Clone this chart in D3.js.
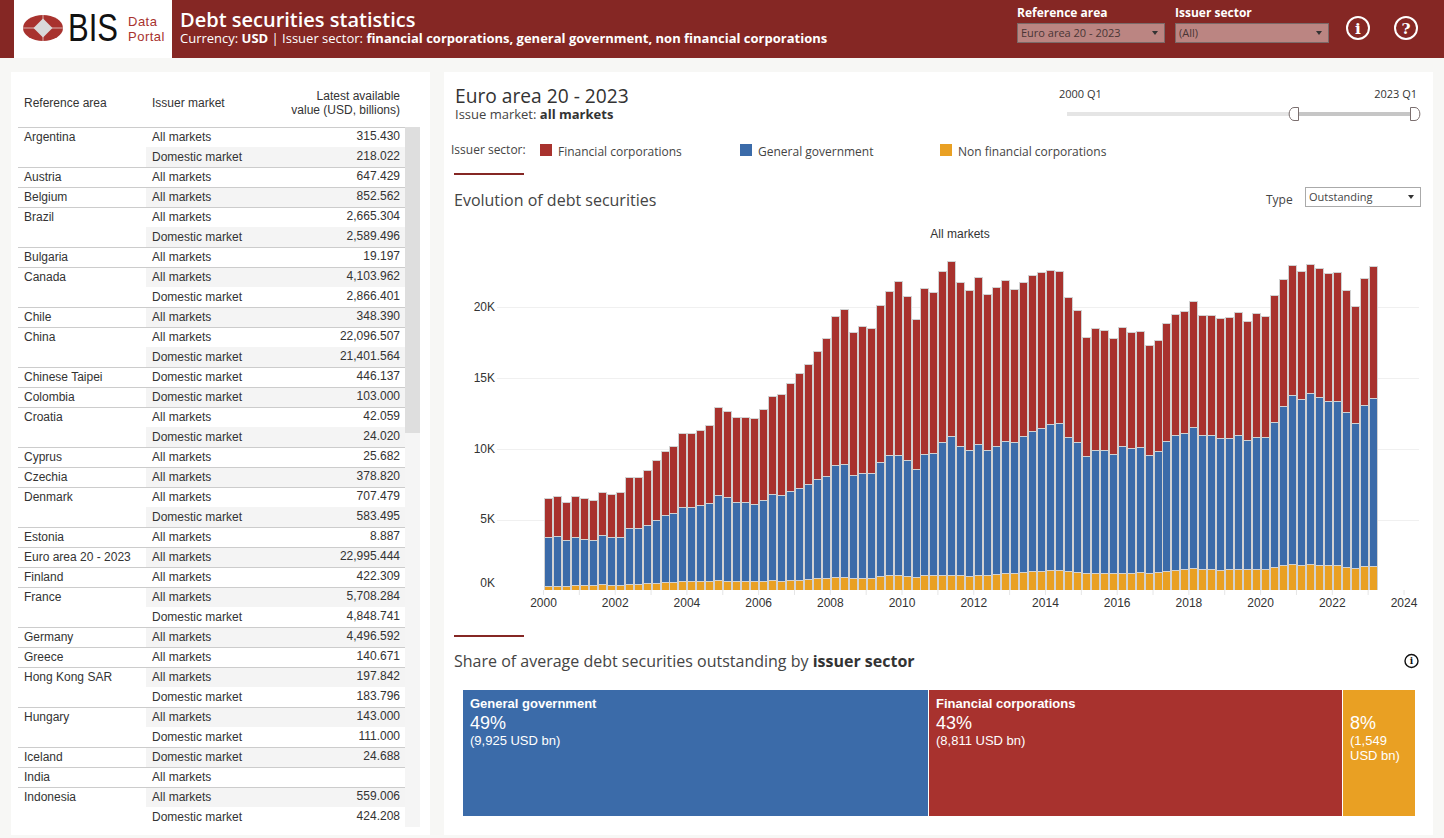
<!DOCTYPE html>
<html>
<head>
<meta charset="utf-8">
<script src="https://d3js.org/d3.v7.min.js"></script>
<style>
html, body { margin: 0; padding: 0; background: #f7f7f5; overflow: hidden; }
svg { display: block; }
</style>
</head>
<body>
<div id="chart"></div>
<script>
// DATA * * * * * * * * * * * * * * * * * * * * * * * *
var sectors = ["Financial corporations", "General government", "Non financial corporations"];
var yearTicks = [2000, 2002, 2004, 2006, 2008, 2010, 2012, 2014, 2016, 2018, 2020, 2022, 2024];
var valueTicks = [0, 5000, 10000, 15000, 20000];

// quarterly, 2000 Q1 to 2023 Q1, USD bn
var financial = [2758,2828,2687,2899,2899,2828,3041,3041,3182,3606,3606,3889,4243,4525,4738,5233,5233,5303,5515,6222,6081,6010,6010,6081,
  6435,6930,7142,7637,8132,8485,9051,9758,10536,10960,10112,10394,10253,11101,11596,12304,11596,10607,11738,11384,12091,12374,11596,11314,
  11809,11031,11243,11384,10819,10889,11031,11031,10889,10748,9899,9334,8414,8627,8485,8202,8414,8202,8202,7778,7849,8344,8556,8627,
  8909,8485,8485,8485,8556,8697,8414,8768,8556,8980,8980,9192,9051,9122,9122,9051,9122,8627,8273,8980,9334];
var government = [3465,3536,3253,3394,3253,3182,3465,3394,3394,3960,3960,4101,4455,4738,4879,5233,5233,5374,5515,6010,5940,5586,5586,5445,
  5728,6081,6081,6293,6505,6717,7000,7212,7920,7990,7283,7425,7425,8061,8485,8485,8202,7637,8556,8627,9404,9829,9122,8909,
  9263,8839,9051,9334,9263,9617,9899,10112,10324,10394,9475,9192,8273,8697,8697,8414,8980,8839,8839,8344,8556,9192,9546,9617,
  9970,9475,9475,9334,9263,9475,9122,9334,9334,10253,11243,11950,11738,12091,11879,11596,11596,10960,10253,11384,11879];
var nonFinancial = [306,306,306,377,377,377,448,377,377,448,448,519,519,589,589,660,660,660,660,731,660,660,660,660,
  660,731,660,731,731,801,872,872,943,943,872,872,872,1013,1084,1084,1013,943,1084,1084,1084,1084,1084,1013,
  1084,1084,1155,1226,1226,1296,1367,1367,1438,1438,1367,1296,1226,1226,1226,1226,1226,1226,1296,1226,1296,1367,1438,1508,
  1579,1508,1508,1438,1508,1508,1508,1508,1508,1650,1791,1862,1791,1862,1791,1791,1791,1650,1579,1721,1721];

var shareNames = ["General government", "Financial corporations", ""];
var shareValues = [9925, 8811, 1549];
var sharePercents = ["49%", "43%", "8%"];
var shareLabels = [["(9,925 USD bn)"], ["(8,811 USD bn)"], ["(1,549", "USD bn)"]];

var tableAreas = ["Argentina","","Austria","Belgium","Brazil","","Bulgaria","Canada","","Chile","China","","Chinese Taipei","Colombia",
  "Croatia","","Cyprus","Czechia","Denmark","","Estonia","Euro area 20 - 2023","Finland","France","","Germany","Greece","Hong Kong SAR","",
  "Hungary","","Iceland","India","Indonesia",""];
var tableMarkets = ["All markets","Domestic market","All markets","All markets","All markets","Domestic market","All markets","All markets","Domestic market",
  "All markets","All markets","Domestic market","Domestic market","Domestic market","All markets","Domestic market","All markets","All markets",
  "All markets","Domestic market","All markets","All markets","All markets","All markets","Domestic market","All markets","All markets",
  "All markets","Domestic market","All markets","Domestic market","Domestic market","All markets","All markets","Domestic market"];
var tableValues = ["315.430","218.022","647.429","852.562","2,665.304","2,589.496","19.197","4,103.962","2,866.401","348.390","22,096.507","21,401.564",
  "446.137","103.000","42.059","24.020","25.682","378.820","707.479","583.495","8.887","22,995.444","422.309","5,708.284","4,848.741","4,496.592",
  "140.671","197.842","183.796","143.000","111.000","24.688","","559.006","424.208"];

// COLOURS AND FONTS * * * * * * * * * * * * * * * * * *
var sectorColor = d3.scaleOrdinal().domain(sectors).range(["#a8322e", "#3b6ba9", "#e9a023"]);
var headerRed = "#852724";
var arial = "'Liberation Sans', Arial, sans-serif";
var open = "'Open Sans', sans-serif";
var ink = "#333";

var svg = d3.select("#chart").append("svg")
    .attr("width", 1444)
    .attr("height", 838);

function text(g, x, y, str, size, opts) {
  opts = opts || {};
  return g.append("text")
    .attr("x", x)
    .attr("y", y)
    .attr("text-anchor", opts.anchor || "start")
    .style("font-family", opts.font || open)
    .style("font-size", size + "px")
    .style("font-weight", opts.weight || 400)
    .style("fill", opts.fill || ink)
    .text(str);
}

function box(g, x, y, w, h, fill, stroke) {
  return g.append("rect")
    .attr("x", x).attr("y", y).attr("width", w).attr("height", h)
    .style("fill", fill)
    .style("stroke", stroke || "none");
}

function dropdown(g, x, y, w, h, str, fill, stroke, color) {
  box(g, x + 0.5, y + 0.5, w, h, fill, stroke);
  text(g, x + 4, y + 14, str, 11, {fill: color});
  var ax = x + w - 9, ay = y + 8;
  g.append("path")
    .attr("d", d3.line()([[ax - 3, ay], [ax + 3, ay], [ax, ay + 4]]) + "Z")
    .style("fill", "#333");
}

function infoIcon(g, cx, cy, r, sw, color, str) {
  g.append("circle").attr("cx", cx).attr("cy", cy).attr("r", r)
    .style("fill", "none").style("stroke", color).style("stroke-width", sw);
  g.append("text").attr("x", cx).attr("y", cy + r * 0.52)
    .attr("text-anchor", "middle")
    .style("font-family", "'DejaVu Serif', serif")
    .style("font-weight", 700)
    .style("font-size", (r * 1.4) + "px")
    .style("fill", color)
    .text(str);
}

// HEADER * * * * * * * * * * * * * * * * * * * * * * * *
var header = svg.append("g");
box(header, 0, 0, 1444, 58, headerRed);
box(header, 14, 0, 158, 58, "#fff");

header.append("ellipse").attr("cx", 43).attr("cy", 28).attr("rx", 20).attr("ry", 13).style("fill", "#a8322e");
header.append("path").attr("d", "M23 28H63M43 15V41").style("stroke", "#d8b0ad").style("stroke-width", 1);
header.append("path").attr("d", "M43 18.5L52.5 28L43 37.5L33.5 28Z").style("fill", "#d9d9d9");
text(header, 68, 41, "BIS", 38, {font: arial, fill: "#111"})
    .attr("textLength", 50)
    .attr("lengthAdjust", "spacingAndGlyphs");
text(header, 128, 26, "Data", 13, {font: arial, fill: "#a8322e"}).style("letter-spacing", "0.5px");
text(header, 128, 41, "Portal", 13, {font: arial, fill: "#a8322e"}).style("letter-spacing", "0.5px");

text(header, 180, 27, "Debt securities statistics", 20, {weight: 600, fill: "#fff"});
var sub = text(header, 180, 43, "Currency: ", 13, {fill: "#fff"});
sub.append("tspan").style("font-weight", 700).text("USD");
sub.append("tspan").text(" | Issuer sector: ");
sub.append("tspan").style("font-weight", 700).text("financial corporations, general government, non financial corporations");

text(header, 1017, 17, "Reference area", 12, {weight: 700, fill: "#fff"});
text(header, 1175, 17, "Issuer sector", 12, {weight: 700, fill: "#fff"});
dropdown(header, 1017, 23, 147, 19, "Euro area 20 - 2023", "#bb8582", "#7b6a69", "#4a3535");
dropdown(header, 1175, 23, 153, 19, "(All)", "#bb8582", "#7b6a69", "#4a3535");
infoIcon(header, 1358, 28, 11, 2, "#fff", "i");
infoIcon(header, 1406, 28, 11, 2, "#fff", "?");

// LEFT PANEL: TABLE * * * * * * * * * * * * * * * * * * *
var left = svg.append("g");
box(left, 11, 72, 419, 763, "#fff");
text(left, 24, 107, "Reference area", 12, {font: arial});
text(left, 152, 107, "Issuer market", 12, {font: arial});
text(left, 400, 100, "Latest available", 12, {font: arial, anchor: "end"});
text(left, 400, 114, "value (USD, billions)", 12, {font: arial, anchor: "end"});

var rowH = 20, rowTop = 127;
box(left, 405, rowTop, 15, rowH * tableValues.length, "#f5f5f5");
box(left, 405, rowTop, 15, 306, "#dedede");

var rows = left.selectAll("g.row")
  .data(tableMarkets)
  .enter().append("g")
    .attr("class", "row")
    .attr("transform", function (d, i) { return "translate(0," + (rowTop + i * rowH) + ")"; });

rows.filter(function (d, i) { return i % 2 === 1; })
  .append("rect")
    .attr("x", 146).attr("width", 259).attr("height", rowH)
    .style("fill", "#f4f4f4");

rows.filter(function (d, i) { return tableAreas[i] !== ""; })
  .append("line")
    .attr("x1", 18).attr("x2", 405).attr("y1", 0.5).attr("y2", 0.5)
    .style("stroke", "#ccc");

rows.append("text").attr("x", 24).attr("y", 14).text(function (d, i) { return tableAreas[i]; });
rows.append("text").attr("x", 152).attr("y", 14).text(function (d) { return d; });
rows.append("text").attr("x", 400).attr("y", 13).attr("text-anchor", "end").text(function (d, i) { return tableValues[i]; });
rows.selectAll("text")
    .style("font-family", arial).style("font-size", "12px").style("fill", ink);

// RIGHT PANEL * * * * * * * * * * * * * * * * * * * * * *
var right = svg.append("g");
box(right, 444, 72, 989, 763, "#fff");
text(right, 455, 103, "Euro area 20 - 2023", 19.2);
var market = text(right, 455, 119, "Issue market: ", 13, {fill: "#444"});
market.append("tspan").style("font-weight", 700).style("fill", ink).text("all markets");

// range slider
text(right, 1059, 98, "2000 Q1", 11);
text(right, 1417, 98, "2023 Q1", 11, {anchor: "end"});
box(right, 1067, 112, 348, 4, "#e5e5e5");
box(right, 1296, 112, 116, 4, "#c6c6c6");
right.append("path").attr("d", "M1298.5 107.5H1294A4.5 6 0 0 0 1294 120.5H1298.5Z")
  .style("fill", "#fff").style("stroke", "#7b6f6f");
right.append("path").attr("d", "M1410.5 107.5H1415A4.5 6 0 0 1 1415 120.5H1410.5Z")
  .style("fill", "#fff").style("stroke", "#7b6f6f");

// legend
text(right, 451, 154, "Issuer sector:", 12, {fill: "#444"});
var legendX = d3.scaleOrdinal().domain(sectors).range([540, 740, 940]);
sectors.forEach(function (s) {
  box(right, legendX(s), 144, 12, 12, sectorColor(s));
  text(right, legendX(s) + 18, 156, s, 12, {fill: "#444"});
});

// section heads
box(right, 454, 173, 70, 2, headerRed);
text(right, 454, 206, "Evolution of debt securities", 16, {fill: "#444"});
text(right, 1266, 204, "Type", 12, {fill: "#444"});
dropdown(right, 1305, 187, 115, 19, "Outstanding", "#fff", "#aaa", "#444");

box(right, 454, 635, 70, 2, headerRed);
var share = text(right, 454, 667, "Share of average debt securities outstanding by ", 16, {fill: "#444"});
share.append("tspan").style("font-weight", 700).style("fill", ink).text("issuer sector");
infoIcon(right, 1411.5, 661, 6.5, 1.4, "#111", "i");

// D3JS STACKED BARS * * * * * * * * * * * * * * * * * * *
var quarters = financial.map(function (d, i) { return 2000 + i / 4; });

var table = quarters.map(function (q, i) {
  var row = {quarter: q};
  row[sectors[0]] = financial[i];
  row[sectors[1]] = government[i];
  row[sectors[2]] = nonFinancial[i];
  return row;
});

// bottom of stack first: non financial, government, financial
var stack = d3.stack().keys([sectors[2], sectors[1], sectors[0]])(table);

var x = d3.scaleLinear().domain([2000, 2024]).range([543, 1403.5]);
var y = d3.scaleLinear().domain([0, 20000]).range([590.3, 307.3]);

var chart = svg.append("g");

text(chart, 960, 238, "All markets", 12, {font: arial, anchor: "middle"});

svg.append("clipPath").attr("id", "plot")
  .append("rect").attr("x", 500).attr("y", 220).attr("width", 940).attr("height", 370);

chart.append("g")
    .selectAll("line")
    .data(valueTicks.slice(1))
    .enter().append("line")
    .attr("x1", 497).attr("x2", 1419)
    .attr("y1", function (d) { return Math.round(y(d)) + 0.5; })
    .attr("y2", function (d) { return Math.round(y(d)) + 0.5; })
    .style("stroke", "#f0f0f0");

// snapped to whole pixels so the light borders stay crisp
chart.append("g")
    .attr("clip-path", "url(#plot)")
    .selectAll("g")
    .data(stack)
    .enter().append("g")
    .style("fill", function (d) { return sectorColor(d.key); })
    .selectAll("rect")
    .data(function (d) { return d; })
    .enter().append("rect")
    .attr("x", function (d) { return Math.round(x(d.data.quarter) + 1) + 0.5; })
    .attr("width", 8)
    .attr("y", function (d) { return Math.round(y(d[1])) + 0.5; })
    .attr("height", function (d) { return Math.round(y(d[0])) - Math.round(y(d[1])); })
    .style("stroke", "#d2d2d2")
    .style("stroke-width", 1);

// axis: one tick a year, labels on even years only
var xAxis = d3.axisBottom(x)
    .tickValues(d3.range(2000, 2025))
    .tickSize(5)
    .tickPadding(3)
    .tickFormat(function (d) { return yearTicks.indexOf(d) >= 0 ? String(d) : ""; });

var xg = chart.append("g")
    .attr("transform", "translate(0,590)")
    .call(xAxis);
xg.select(".domain").remove();
xg.selectAll("line").style("stroke", "#e6e6e6");

var yAxis = d3.axisLeft(y)
    .tickValues(valueTicks)
    .tickSize(0)
    .tickPadding(0)
    .tickFormat(function (d) { return (d / 1000) + "K"; });

var yg = chart.append("g")
    .attr("transform", "translate(495,0)")
    .call(yAxis);
yg.select(".domain").remove();
// tableau lifts the bottom label clear of the axis
yg.selectAll("text").attr("dy", function (d) { return d === 0 ? "-0.35em" : "0.28em"; });

chart.selectAll("g text")
    .style("font-family", arial).style("font-size", "12px").style("fill", ink);

// D3JS SHARE BAND * * * * * * * * * * * * * * * * * * * *
var shareX = d3.scaleLinear().domain([0, d3.sum(shareValues)]).range([463, 1415]);
var shareColors = ["#3b6ba9", "#a8322e", "#e9a023"];
var shareStart = d3.cumsum([0].concat(shareValues));
function shareLeft(i) { return Math.ceil(shareX(shareStart[i])); }

var cells = svg.append("g").selectAll("g")
    .data(shareValues)
    .enter().append("g")
    .attr("transform", function (d, i) { return "translate(" + shareLeft(i) + ",690)"; });

// one pixel of white between neighbours
cells.append("rect")
    .attr("width", function (d, i) { return shareLeft(i + 1) - shareLeft(i) - (i < 2 ? 1 : 0); })
    .attr("height", 126)
    .style("fill", function (d, i) { return shareColors[i]; });

cells.each(function (d, i) {
  var cell = d3.select(this);
  text(cell, 7, 18, shareNames[i], 13, {font: arial, weight: 700, fill: "#fff"});
  text(cell, 7, 39, sharePercents[i], 18, {font: arial, fill: "#fff"});
  shareLabels[i].forEach(function (s, k) {
    text(cell, 7, 55 + k * 15, s, 13, {font: arial, fill: "#fff"});
  });
});
</script>
</body>
</html>
